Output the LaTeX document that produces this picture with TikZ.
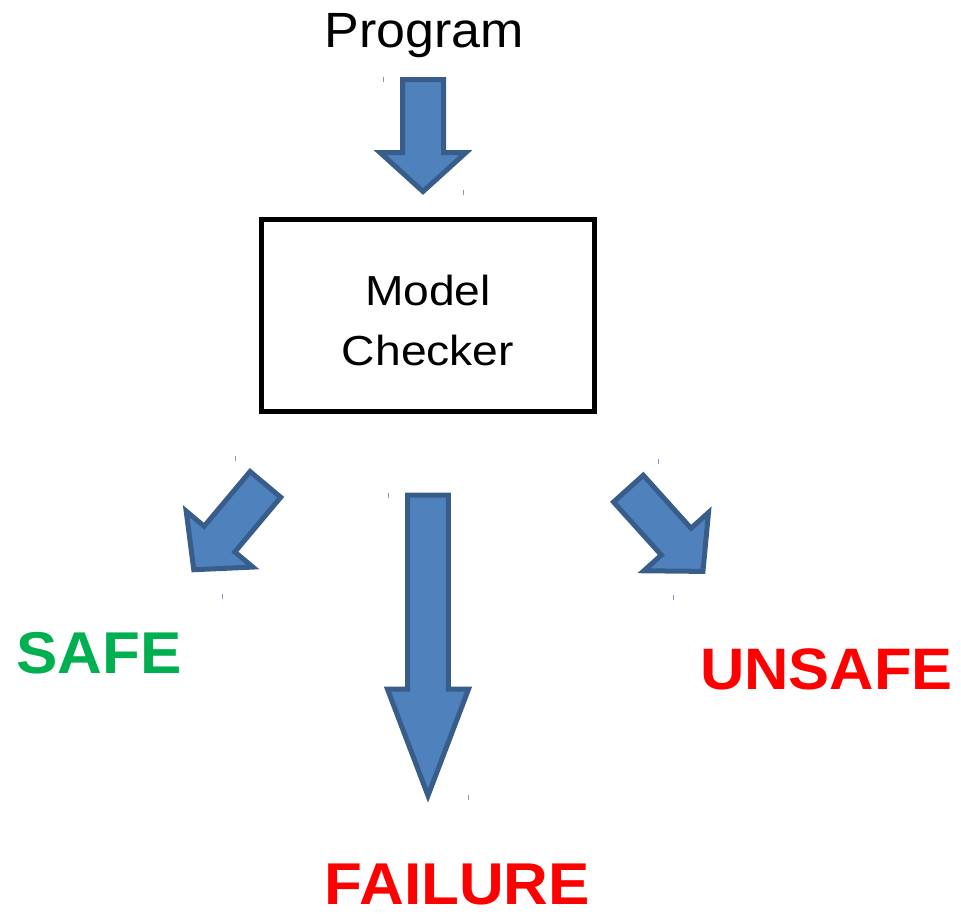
\documentclass[tikz,border=0pt]{standalone}
\usepackage{fontspec}
\setmainfont{Liberation Sans}
\newfontfamily\labelfont{Liberation Sans}[FakeStretch=1.05]
\newfontfamily\boxfont{Liberation Sans}[FakeStretch=1.1]

\definecolor{arrowfill}{HTML}{4F81BD}
\definecolor{arrowline}{HTML}{385D8A}
\definecolor{safegreen}{HTML}{00B050}
\definecolor{alertred}{HTML}{FF0000}
\definecolor{handlecol}{HTML}{7F9AC6}

\tikzset{
  blockarrowstyle/.style={fill=arrowfill, draw=arrowline, line width=5pt, line join=miter},
  handlestyle/.style={draw=handlecol, line width=0.9pt},
  checkerbox/.style={draw=black, line width=4.7pt, fill=white, inner sep=0pt},
  plainlabel/.style={font=\labelfont\fontsize{49.5}{58}\selectfont, inner sep=0pt, anchor=base},
  boxlabel/.style={font=\boxfont\fontsize{42}{60}\selectfont, align=center, inner sep=0pt, anchor=base},
  verdict/.style={font=\labelfont\bfseries\fontsize{59}{70}\selectfont, inner sep=0pt, anchor=base},
}

% block arrow: start x, start y, rotation, half shaft width, shaft length, half head width, head length
\newcommand\blockarrow[7]{%
  \draw[blockarrowstyle, shift={(#1,#2)}, rotate=#3]
    (0,-#4) -- (#5,-#4) -- (#5,-#6) -- ({#5+#7},0) -- (#5,#6) -- (#5,#4) -- (0,#4) -- cycle;}

% small selection handle mark
\newcommand\handlemark[2]{\draw[handlestyle] (#1,#2-2.5) -- (#1,#2+2.5);}

\begin{document}
\begin{tikzpicture}[x=1pt,y=-1pt]
  \useasboundingbox (0,0) rectangle (961,913);

  % input
  \node[plainlabel] (program) at (424.5,47) {Program};
  \blockarrow{423}{79.5}{-90}{20.5}{73}{43}{39}
  \handlemark{383}{79}
  \handlemark{463}{192}

  % the checker (label anchored on the baseline of its last line)
  \node[checkerbox, minimum width=333.5pt, minimum height=192pt] (checker) at (428,315.5) {};
  \node[boxlabel] (checkertext) at (428,365) {Model\\Checker};

  % outcomes
  \blockarrow{265.4}{484.4}{-130}{20}{71.4}{43.5}{40}
  \handlemark{235}{458}
  \handlemark{222}{596}

  \blockarrow{428}{495.2}{-90}{20.3}{194}{40.5}{106.4}
  \handlemark{388}{495}
  \handlemark{468}{797}

  \blockarrow{628.4}{488.6}{-48}{20}{71.4}{43.5}{40}
  \handlemark{658}{461}
  \handlemark{673}{597}

  \node[verdict, text=safegreen] (safe) at (99,673) {SAFE};
  \node[verdict, text=alertred, font=\labelfont\bfseries\fontsize{58.5}{70}\selectfont] (unsafe) at (826.5,689) {UNSAFE};
  \node[verdict, text=alertred] (failure) at (457.5,904) {FAILURE};
\end{tikzpicture}
\end{document}
